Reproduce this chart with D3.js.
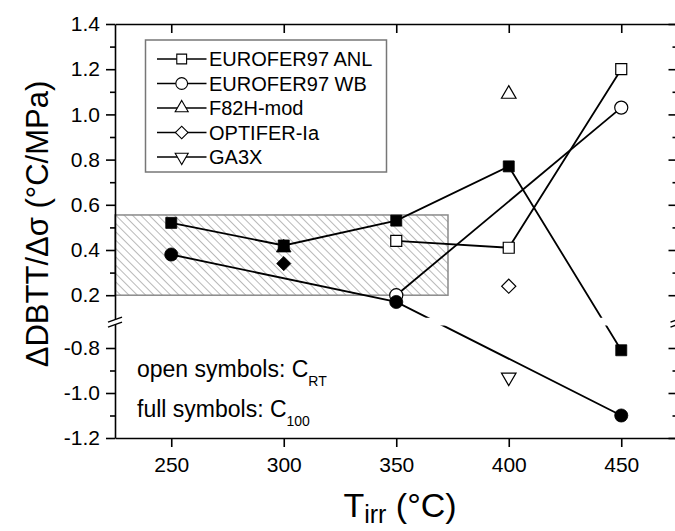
<!DOCTYPE html>
<html>
<head>
<meta charset="utf-8">
<script src="https://cdn.jsdelivr.net/npm/d3@7"></script>
<style>
  body { margin: 0; background: #fff; }
  svg { display: block; font-family: 'Liberation Sans', Arial, sans-serif; }
</style>
</head>
<body>
<script>
// values per irradiation temperature, null = no measurement
var temps  = [250, 300, 350, 400, 450];
var anlRT  = [null, null, 0.44, 0.41, 1.20];
var anl100 = [0.52, 0.42, 0.53, 0.77, -0.81];
var wbRT   = [null, null, 0.20, null, 1.03];
var wb100  = [0.38, null, 0.17, null, -1.10];
var f82RT  = [null, null, null, 1.09, null];
var f82100 = [null, 0.41, null, null, null];
var optRT  = [null, null, null, 0.24, null];
var opt100 = [null, 0.34, null, null, null];
var ga3xRT = [null, null, null, -0.93, null];

var legendNames = ['EUROFER97 ANL', 'EUROFER97 WB', 'F82H-mod', 'OPTIFER-Ia', 'GA3X'];

var xTicks = [250, 300, 350, 400, 450];
var xDomain = [225, 475];
var yMajor = [-1.2, -1.0, -0.8, 0.2, 0.4, 0.6, 0.8, 1.0, 1.2, 1.4];
var yMinor = [-1.1, -0.9, 0.3, 0.5, 0.7, 0.9, 1.1, 1.3];
// broken y axis: lower part and upper part
var yLower = [-1.2, -0.7];
var yUpper = [0.1, 1.4];
// hatched scatter band
var bandX = [225, 373];
var bandY = [0.2, 0.555];

var W = 675, H = 531;
var pLeft = 115, pRight = 677.5, pTop = 24, pBottom = 438;
var breakLo = 325.5, breakHi = 317.8;

var svg = d3.select('body').append('svg')
  .attr('width', W)
  .attr('height', H);

var x = d3.scaleLinear().domain(xDomain).range([pLeft, pRight]);
var y = d3.scaleLinear()
  .domain([yLower[0], yLower[1], yUpper[0], yUpper[1]])
  .range([pBottom, breakLo, breakHi, pTop]);

var series = [
  {vals: anlRT,  sym: 'square',  fill: false, line: true},
  {vals: wbRT,   sym: 'circle',  fill: false, line: true},
  {vals: f82RT,  sym: 'tri',     fill: false, line: false},
  {vals: optRT,  sym: 'diamond', fill: false, line: false},
  {vals: ga3xRT, sym: 'triDown', fill: false, line: false},
  {vals: anl100, sym: 'square',  fill: true,  line: true},
  {vals: wb100,  sym: 'circle',  fill: true,  line: true},
  {vals: f82100, sym: 'tri',     fill: true,  line: false},
  {vals: opt100, sym: 'diamond', fill: true,  line: false}
];
// triangle drawn before square so the square sits on top
var drawOrder = [0, 1, 2, 3, 4, 7, 8, 5, 6];

function symPath(type, k) {
  k = k || 1;
  switch (type) {
    case 'square':  return d3.symbol(d3.symbolSquare, 121 * k)();
    case 'circle':  return d3.symbol(d3.symbolCircle, 135 * k)();
    case 'tri':
    case 'triDown': return d3.symbol(d3.symbolTriangle, 92 * k)();
    case 'diamond': return d3.symbol(d3.symbolSquare, 100 * k)();
  }
}
function symRot(type) {
  if (type === 'diamond') return ' rotate(45)';
  if (type === 'triDown') return ' rotate(180)';
  return '';
}

function points(vals) {
  return temps.map(function(t, i) { return {t: t, v: vals[i]}; })
    .filter(function(d) { return d.v !== null; });
}

// hatch pattern
var defs = svg.append('defs');
defs.append('pattern')
  .attr('id', 'hatch')
  .attr('patternUnits', 'userSpaceOnUse')
  .attr('width', 5.9)
  .attr('height', 5.9)
  .attr('patternTransform', 'rotate(-45)')
  .append('line')
    .attr('x1', 0).attr('y1', 0)
    .attr('x2', 0).attr('y2', 5.9)
    .attr('stroke', '#808080')
    .attr('stroke-width', 1.1);

svg.append('rect')
  .attr('x', x(bandX[0]))
  .attr('y', y(bandY[1]))
  .attr('width', x(bandX[1]) - x(bandX[0]))
  .attr('height', y(bandY[0]) - y(bandY[1]))
  .attr('fill', 'url(#hatch)')
  .attr('stroke', '#8a8a8a')
  .attr('stroke-width', 1.5);

// connecting lines
var line = d3.line()
  .x(function(d) { return x(d.t); })
  .y(function(d) { return y(d.v); });

svg.append('g').selectAll('path')
  .data(series.filter(function(s) { return s.line; }))
  .enter()
  .append('path')
    .attr('d', function(s) { return line(points(s.vals)); })
    .attr('fill', 'none')
    .attr('stroke', '#000')
    .attr('stroke-width', 1.8);

// gap of the axis break
svg.append('rect')
  .attr('x', pLeft + 1)
  .attr('y', breakHi)
  .attr('width', pRight - pLeft - 2)
  .attr('height', breakLo - breakHi)
  .attr('fill', '#fff');

// markers
var mk = svg.append('g');
drawOrder.forEach(function(si) {
  var s = series[si];
  mk.append('g').selectAll('path')
    .data(points(s.vals))
    .enter()
    .append('path')
      .attr('d', symPath(s.sym))
      .attr('transform', function(d) {
        return 'translate(' + x(d.t) + ',' + y(d.v) + ')' + symRot(s.sym);
      })
      .attr('fill', s.fill ? '#000' : '#fff')
      .attr('stroke', '#000')
      .attr('stroke-width', s.fill ? 0.8 : 1.2);
});

// axes
var fmt = function(d) { return d.toFixed(1); };

svg.append('g')
  .attr('class', 'axis')
  .attr('transform', 'translate(0,' + pBottom + ')')
  .call(d3.axisBottom(x).tickValues(xTicks).tickSize(9).tickSizeOuter(0).tickPadding(10));

svg.append('g')
  .attr('class', 'axis')
  .attr('transform', 'translate(0,' + pTop + ')')
  .call(d3.axisTop(x).tickValues(xTicks).tickSize(-9).tickSizeOuter(0).tickFormat(''));

svg.append('g')
  .attr('class', 'axis')
  .attr('transform', 'translate(' + pLeft + ',0)')
  .call(d3.axisLeft(y).tickValues(yMajor).tickSize(9).tickSizeOuter(0).tickPadding(6).tickFormat(fmt));

svg.append('g')
  .attr('class', 'axis minor')
  .attr('transform', 'translate(' + pLeft + ',0)')
  .call(d3.axisLeft(y).tickValues(yMinor).tickSize(5).tickSizeOuter(0).tickFormat(''));

svg.append('g')
  .attr('class', 'axis')
  .attr('transform', 'translate(' + pRight + ',0)')
  .call(d3.axisRight(y).tickValues(yMajor).tickSize(-9).tickSizeOuter(0).tickFormat(''));

svg.append('g')
  .attr('class', 'axis minor')
  .attr('transform', 'translate(' + pRight + ',0)')
  .call(d3.axisRight(y).tickValues(yMinor).tickSize(-5).tickSizeOuter(0).tickFormat(''));

svg.selectAll('.axis path.domain').attr('stroke-width', 1.6);
svg.selectAll('.minor path.domain').remove();
svg.selectAll('.axis .tick line').attr('stroke-width', 1.6);
svg.selectAll('.axis text')
  .style('font-family', "'Liberation Sans', Arial, sans-serif")
  .style('font-size', '21px')
  .attr('fill', '#000');

// break marks on both y axes
function breakMark(cx) {
  var cy = (breakLo + breakHi) / 2;
  var g = svg.append('g').attr('transform', 'translate(' + cx + ',' + cy + ')');
  g.append('path')
    .attr('d', 'M-7,0.5 L7,-4.5 L7,0.5 L-7,5.5 Z')
    .attr('fill', '#fff');
  g.append('line').attr('x1', -7).attr('y1', 0.5).attr('x2', 7).attr('y2', -4.5)
    .attr('stroke', '#000').attr('stroke-width', 1.4);
  g.append('line').attr('x1', -7).attr('y1', 5.5).attr('x2', 7).attr('y2', 0.5)
    .attr('stroke', '#000').attr('stroke-width', 1.4);
}
breakMark(pLeft);
breakMark(pRight);

// axis titles
svg.append('text')
  .attr('transform', 'translate(48,224) rotate(-90)')
  .attr('text-anchor', 'middle')
  .style('font-size', '31px')
  .text('\u0394DBTT/\u0394\u03c3 (\u00b0C/MPa)');

var xt = svg.append('text')
  .attr('x', 400)
  .attr('y', 517)
  .attr('text-anchor', 'middle')
  .style('font-size', '34px');
xt.append('tspan').text('T');
xt.append('tspan').attr('dy', 6).style('font-size', '25px').text('irr');
xt.append('tspan').attr('dy', -6).text(' (\u00b0C)');

// legend
var legend = svg.append('g');
legend.append('rect')
  .attr('x', 145.5).attr('y', 40)
  .attr('width', 241).attr('height', 132)
  .attr('fill', '#fff')
  .attr('stroke', '#777')
  .attr('stroke-width', 1.5);

var legSyms = ['square', 'circle', 'tri', 'diamond', 'triDown'];
var rows = legend.selectAll('.row')
  .data(legendNames)
  .enter()
  .append('g')
    .attr('transform', function(d, i) { return 'translate(0,' + (59 + i * 24.5) + ')'; });

rows.append('line')
  .attr('x1', 157).attr('x2', 206.5)
  .attr('y1', 0).attr('y2', 0)
  .attr('stroke', '#000').attr('stroke-width', 1.5);
rows.append('path')
  .attr('d', function(d, i) { return symPath(legSyms[i], 0.8); })
  .attr('transform', function(d, i) { return 'translate(181.7,0)' + symRot(legSyms[i]); })
  .attr('fill', '#fff')
  .attr('stroke', '#000')
  .attr('stroke-width', 1.1);
rows.append('text')
  .attr('x', 209)
  .attr('dy', '0.36em')
  .style('font-size', '20px')
  .text(function(d) { return d; });

// notes
var notes = [['open symbols: C', 'RT', 377], ['full symbols: C', '100', 417]];
notes.forEach(function(n) {
  var t = svg.append('text')
    .attr('x', 137)
    .attr('y', n[2])
    .style('font-size', '23px');
  t.append('tspan').text(n[0]);
  t.append('tspan').attr('dy', 9).style('font-size', '14px').text(n[1]);
});
</script>
</body>
</html>
